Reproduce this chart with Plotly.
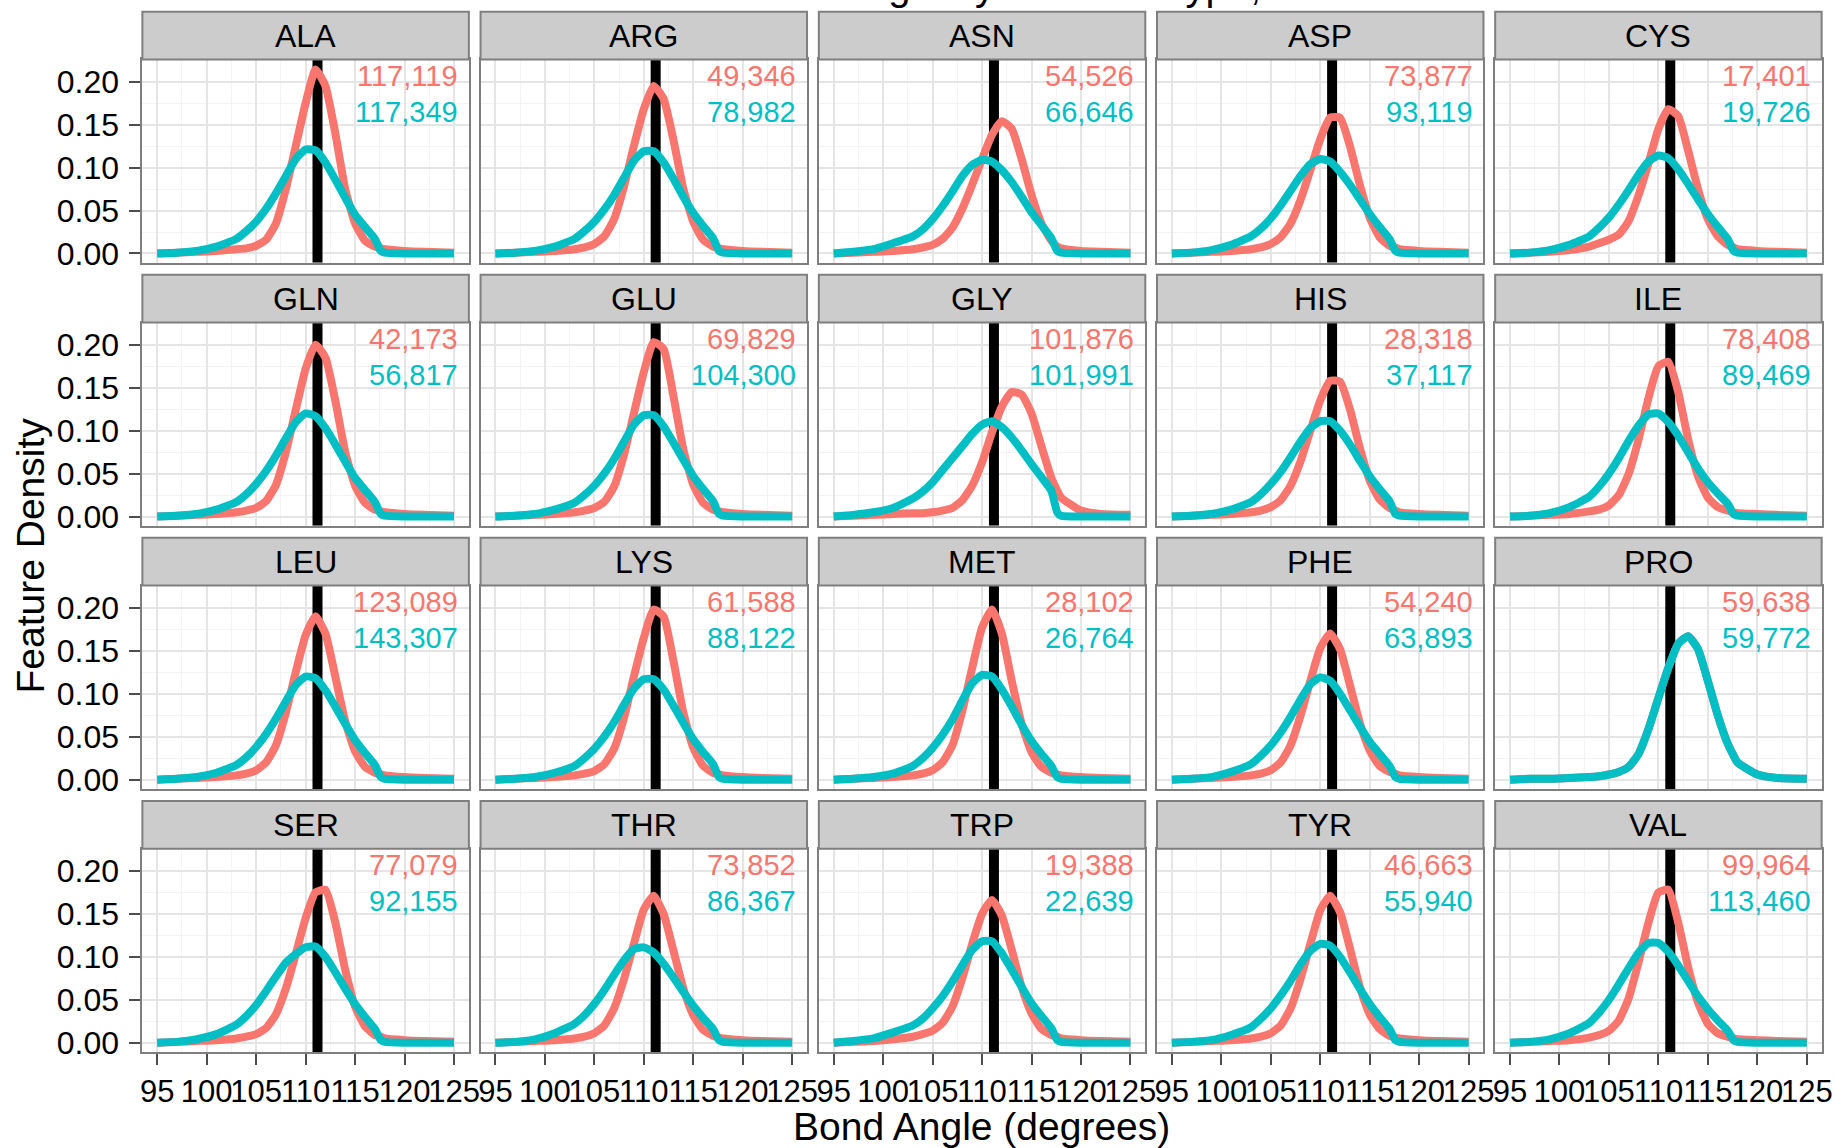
import plotly.graph_objects as go

# ---------------------------------------------------------------- data
residues = ["ALA", "ARG", "ASN", "ASP", "CYS",
            "GLN", "GLU", "GLY", "HIS", "ILE",
            "LEU", "LYS", "MET", "PHE", "PRO",
            "SER", "THR", "TRP", "TYR", "VAL"]

angle_grid = [95, 97, 99, 101, 103, 104, 105, 106, 107, 108, 109, 110,
              111, 112, 113, 114, 115, 116, 117, 117.6, 118, 120, 122, 125]

ideal_angle = 111.2

native_counts = [117119, 49346, 54526, 73877, 17401,
                 42173, 69829, 101876, 28318, 78408,
                 123089, 61588, 28102, 54240, 59638,
                 77079, 73852, 19388, 46663, 99964]
rosetta_counts = [117349, 78982, 66646, 93119, 19726,
                  56817, 104300, 101991, 37117, 89469,
                  143307, 88122, 26764, 63893, 59772,
                  92155, 86367, 22639, 55940, 113460]

native_ala = [0, 0.001, 0.002, 0.003, 0.005, 0.006, 0.009, 0.016, 0.035, 0.075, 0.125, 0.175, 0.214, 0.195, 0.14, 0.075, 0.035, 0.015, 0.008, 0.006, 0.005, 0.003, 0.002, 0.001]
rosetta_ala = [0, 0.001, 0.003, 0.008, 0.017, 0.026, 0.037, 0.052, 0.07, 0.09, 0.11, 0.121, 0.12, 0.106, 0.086, 0.065, 0.045, 0.031, 0.017, 0.003, 0.001, 0, 0, 0]

native_arg = [0, 0.001, 0.002, 0.003, 0.005, 0.007, 0.011, 0.02, 0.04, 0.078, 0.125, 0.168, 0.195, 0.18, 0.132, 0.075, 0.037, 0.016, 0.008, 0.006, 0.005, 0.003, 0.002, 0.001]
rosetta_arg = [0, 0.001, 0.003, 0.008, 0.017, 0.026, 0.037, 0.051, 0.068, 0.088, 0.108, 0.119, 0.119, 0.106, 0.087, 0.066, 0.047, 0.032, 0.018, 0.003, 0.001, 0, 0, 0]

native_asn = [0, 0.001, 0.002, 0.003, 0.005, 0.007, 0.01, 0.017, 0.03, 0.052, 0.08, 0.11, 0.138, 0.154, 0.145, 0.11, 0.068, 0.035, 0.015, 0.008, 0.006, 0.003, 0.002, 0.001]
rosetta_asn = [0, 0.002, 0.005, 0.012, 0.02, 0.028, 0.04, 0.055, 0.072, 0.09, 0.103, 0.109, 0.107, 0.097, 0.083, 0.066, 0.048, 0.033, 0.018, 0.003, 0.001, 0, 0, 0]

native_asp = [0, 0.001, 0.002, 0.003, 0.005, 0.007, 0.011, 0.019, 0.035, 0.062, 0.097, 0.133, 0.158, 0.158, 0.125, 0.08, 0.042, 0.019, 0.009, 0.007, 0.005, 0.003, 0.002, 0.001]
rosetta_asp = [0, 0.001, 0.004, 0.01, 0.02, 0.029, 0.041, 0.056, 0.073, 0.09, 0.104, 0.11, 0.107, 0.095, 0.08, 0.063, 0.046, 0.031, 0.017, 0.003, 0.001, 0, 0, 0]

native_cys = [0, 0.001, 0.002, 0.004, 0.008, 0.012, 0.016, 0.022, 0.038, 0.068, 0.105, 0.145, 0.168, 0.16, 0.12, 0.075, 0.04, 0.02, 0.01, 0.007, 0.005, 0.003, 0.002, 0.001]
rosetta_cys = [0, 0.001, 0.004, 0.01, 0.02, 0.03, 0.042, 0.057, 0.074, 0.092, 0.107, 0.114, 0.111, 0.098, 0.081, 0.063, 0.046, 0.031, 0.017, 0.003, 0.001, 0, 0, 0]

native_gln = [0, 0.001, 0.002, 0.003, 0.005, 0.007, 0.01, 0.018, 0.037, 0.075, 0.124, 0.172, 0.2, 0.185, 0.135, 0.075, 0.036, 0.016, 0.008, 0.006, 0.005, 0.003, 0.002, 0.001]
rosetta_gln = [0, 0.001, 0.003, 0.008, 0.017, 0.026, 0.038, 0.053, 0.071, 0.091, 0.11, 0.12, 0.117, 0.103, 0.084, 0.064, 0.045, 0.031, 0.017, 0.003, 0.001, 0, 0, 0]

native_glu = [0, 0.001, 0.002, 0.003, 0.005, 0.007, 0.01, 0.017, 0.035, 0.072, 0.12, 0.168, 0.203, 0.195, 0.14, 0.078, 0.037, 0.016, 0.008, 0.006, 0.005, 0.003, 0.002, 0.001]
rosetta_glu = [0, 0.001, 0.003, 0.008, 0.016, 0.025, 0.036, 0.05, 0.067, 0.087, 0.107, 0.118, 0.118, 0.105, 0.086, 0.066, 0.047, 0.032, 0.018, 0.003, 0.001, 0, 0, 0]

native_gly = [0, 0.001, 0.002, 0.003, 0.004, 0.004, 0.005, 0.007, 0.01, 0.019, 0.036, 0.063, 0.098, 0.128, 0.145, 0.142, 0.12, 0.082, 0.045, 0.03, 0.022, 0.007, 0.003, 0.002]
rosetta_gly = [0, 0.002, 0.005, 0.01, 0.021, 0.029, 0.04, 0.054, 0.068, 0.082, 0.096, 0.107, 0.111, 0.104, 0.092, 0.077, 0.061, 0.046, 0.03, 0.005, 0.001, 0, 0, 0]

native_his = [0, 0.001, 0.002, 0.003, 0.005, 0.007, 0.011, 0.019, 0.036, 0.064, 0.1, 0.135, 0.158, 0.157, 0.125, 0.08, 0.042, 0.02, 0.01, 0.007, 0.005, 0.003, 0.002, 0.001]
rosetta_his = [0, 0.001, 0.003, 0.008, 0.017, 0.026, 0.038, 0.052, 0.069, 0.087, 0.103, 0.111, 0.111, 0.1, 0.084, 0.065, 0.047, 0.032, 0.018, 0.003, 0.001, 0, 0, 0]

native_ile = [0, 0.001, 0.002, 0.003, 0.006, 0.008, 0.013, 0.025, 0.05, 0.09, 0.138, 0.175, 0.18, 0.145, 0.09, 0.047, 0.022, 0.011, 0.007, 0.005, 0.004, 0.003, 0.002, 0.001]
rosetta_ile = [0, 0.001, 0.004, 0.011, 0.023, 0.035, 0.05, 0.068, 0.088, 0.106, 0.119, 0.12, 0.11, 0.094, 0.075, 0.056, 0.04, 0.027, 0.015, 0.003, 0.001, 0, 0, 0]

native_leu = [0, 0.001, 0.002, 0.003, 0.005, 0.007, 0.011, 0.02, 0.04, 0.078, 0.125, 0.168, 0.19, 0.17, 0.12, 0.068, 0.033, 0.015, 0.008, 0.006, 0.005, 0.003, 0.002, 0.001]
rosetta_leu = [0, 0.001, 0.003, 0.008, 0.017, 0.026, 0.038, 0.053, 0.071, 0.091, 0.11, 0.12, 0.118, 0.104, 0.085, 0.065, 0.046, 0.031, 0.017, 0.003, 0.001, 0, 0, 0]

native_lys = [0, 0.001, 0.002, 0.003, 0.005, 0.007, 0.01, 0.018, 0.036, 0.072, 0.12, 0.165, 0.198, 0.19, 0.138, 0.078, 0.037, 0.016, 0.008, 0.006, 0.005, 0.003, 0.002, 0.001]
rosetta_lys = [0, 0.001, 0.003, 0.008, 0.016, 0.025, 0.036, 0.05, 0.067, 0.087, 0.106, 0.117, 0.117, 0.105, 0.086, 0.066, 0.047, 0.032, 0.018, 0.003, 0.001, 0, 0, 0]

native_met = [0, 0.001, 0.002, 0.003, 0.005, 0.007, 0.011, 0.02, 0.04, 0.08, 0.13, 0.177, 0.198, 0.17, 0.115, 0.065, 0.032, 0.015, 0.008, 0.006, 0.005, 0.003, 0.002, 0.001]
rosetta_met = [0, 0.001, 0.003, 0.007, 0.016, 0.025, 0.037, 0.052, 0.07, 0.092, 0.112, 0.122, 0.12, 0.105, 0.085, 0.064, 0.045, 0.03, 0.016, 0.003, 0.001, 0, 0, 0]

native_phe = [0, 0.001, 0.002, 0.003, 0.005, 0.007, 0.011, 0.02, 0.04, 0.074, 0.115, 0.153, 0.17, 0.152, 0.11, 0.066, 0.034, 0.016, 0.009, 0.007, 0.005, 0.003, 0.002, 0.001]
rosetta_phe = [0, 0.001, 0.003, 0.009, 0.018, 0.028, 0.04, 0.055, 0.073, 0.093, 0.111, 0.119, 0.115, 0.1, 0.081, 0.062, 0.044, 0.03, 0.016, 0.003, 0.001, 0, 0, 0]

native_pro = [0, 0.001, 0.001, 0.002, 0.003, 0.004, 0.006, 0.009, 0.015, 0.03, 0.059, 0.095, 0.13, 0.158, 0.167, 0.152, 0.115, 0.075, 0.042, 0.028, 0.02, 0.006, 0.002, 0.001]
rosetta_pro = [0, 0.001, 0.001, 0.002, 0.003, 0.004, 0.006, 0.009, 0.015, 0.03, 0.059, 0.095, 0.13, 0.158, 0.167, 0.152, 0.115, 0.075, 0.042, 0.028, 0.02, 0.006, 0.002, 0.001]

native_ser = [0, 0.001, 0.002, 0.003, 0.005, 0.007, 0.01, 0.017, 0.033, 0.063, 0.103, 0.145, 0.175, 0.178, 0.14, 0.085, 0.042, 0.019, 0.009, 0.007, 0.005, 0.003, 0.002, 0.001]
rosetta_ser = [0, 0.001, 0.004, 0.01, 0.021, 0.031, 0.044, 0.06, 0.077, 0.093, 0.103, 0.111, 0.112, 0.1, 0.082, 0.063, 0.045, 0.03, 0.016, 0.003, 0.001, 0, 0, 0]

native_thr = [0, 0.001, 0.002, 0.003, 0.005, 0.007, 0.011, 0.02, 0.04, 0.074, 0.115, 0.155, 0.171, 0.15, 0.107, 0.063, 0.032, 0.015, 0.008, 0.006, 0.005, 0.003, 0.002, 0.001]
rosetta_thr = [0, 0.001, 0.004, 0.011, 0.022, 0.032, 0.045, 0.061, 0.079, 0.096, 0.109, 0.111, 0.105, 0.092, 0.076, 0.059, 0.043, 0.029, 0.016, 0.003, 0.001, 0, 0, 0]

native_trp = [0, 0.001, 0.002, 0.004, 0.007, 0.01, 0.014, 0.023, 0.042, 0.075, 0.115, 0.15, 0.166, 0.148, 0.108, 0.065, 0.034, 0.016, 0.009, 0.007, 0.005, 0.003, 0.002, 0.001]
rosetta_trp = [0, 0.002, 0.005, 0.012, 0.02, 0.028, 0.04, 0.054, 0.071, 0.09, 0.108, 0.118, 0.118, 0.104, 0.085, 0.065, 0.046, 0.031, 0.017, 0.003, 0.001, 0, 0, 0]

native_tyr = [0, 0.001, 0.002, 0.003, 0.005, 0.007, 0.011, 0.02, 0.04, 0.074, 0.115, 0.154, 0.171, 0.152, 0.11, 0.065, 0.033, 0.016, 0.008, 0.006, 0.005, 0.003, 0.002, 0.001]
rosetta_tyr = [0, 0.001, 0.003, 0.009, 0.018, 0.028, 0.04, 0.055, 0.072, 0.091, 0.107, 0.115, 0.113, 0.1, 0.082, 0.063, 0.045, 0.03, 0.016, 0.003, 0.001, 0, 0, 0]

native_val = [0, 0.001, 0.002, 0.003, 0.006, 0.009, 0.014, 0.026, 0.052, 0.094, 0.14, 0.175, 0.178, 0.14, 0.088, 0.047, 0.022, 0.011, 0.007, 0.005, 0.004, 0.003, 0.002, 0.001]
rosetta_val = [0, 0.001, 0.004, 0.011, 0.023, 0.035, 0.05, 0.068, 0.087, 0.105, 0.116, 0.116, 0.106, 0.09, 0.072, 0.054, 0.039, 0.026, 0.014, 0.003, 0.001, 0, 0, 0]

native_density = [native_ala, native_arg, native_asn, native_asp, native_cys,
                  native_gln, native_glu, native_gly, native_his, native_ile,
                  native_leu, native_lys, native_met, native_phe, native_pro,
                  native_ser, native_thr, native_trp, native_tyr, native_val]
rosetta_density = [rosetta_ala, rosetta_arg, rosetta_asn, rosetta_asp, rosetta_cys,
                   rosetta_gln, rosetta_glu, rosetta_gly, rosetta_his, rosetta_ile,
                   rosetta_leu, rosetta_lys, rosetta_met, rosetta_phe, rosetta_pro,
                   rosetta_ser, rosetta_thr, rosetta_trp, rosetta_tyr, rosetta_val]

# ---------------------------------------------------------------- styling
W, H = 1835, 1148
FRAME = 0.993                     # usable fraction of the page for the layout grid
FONT = "Liberation Sans, Arial, Helvetica, sans-serif"
RED = "#F8766D"
TEAL = "#00BFC4"
BORDER = "#7F7F7F"

COL_LEFT = [140.4, 478.6, 816.9, 1155.1, 1493.3]
PANEL_W = 326.5
ROW_TOP = [59.5, 322.8, 586.1, 849.4]
PANEL_H = 203.5
STRIP_H = 47.8

X_RANGE = [93.5, 126.5]
Y_RANGE = [-0.0108, 0.2258]


def fx(px):
    return px / (W * FRAME)


def fy(py):
    return 1 - py / (H * FRAME)


fig = go.Figure()
layout = dict(
    width=W, height=H, autosize=False,
    margin=dict(l=0, r=0, t=0, b=0),
    paper_bgcolor="white", plot_bgcolor="white",
    showlegend=False,
    font=dict(family=FONT, color="black"),
)
shapes = []
annotations = []

for i, res in enumerate(residues):
    r, c = divmod(i, 5)
    sfx = "" if i == 0 else str(i + 1)
    left = COL_LEFT[c]
    top = ROW_TOP[r]

    layout["xaxis" + sfx] = dict(
        domain=[fx(left), fx(left + PANEL_W)],
        anchor="y" + sfx, range=X_RANGE,
        tickmode="linear", tick0=95, dtick=5, tickangle=0,
        showticklabels=(r == 3), ticks="outside" if r == 3 else "",
        ticklen=11, tickwidth=1.5, tickcolor="#4D4D4D",
        tickfont=dict(size=31, color="black"),
        showgrid=True, gridcolor="#E5E5E5", gridwidth=1.6,
        minor=dict(dtick=2.5, tick0=95, showgrid=True, gridcolor="#F4F4F4", gridwidth=1.2),
        showline=True, mirror=True, linecolor=BORDER, linewidth=2,
        zeroline=False, fixedrange=True,
    )
    layout["yaxis" + sfx] = dict(
        domain=[fy(top + PANEL_H), fy(top)],
        anchor="x" + sfx, range=Y_RANGE,
        tickmode="linear", tick0=0, dtick=0.05, tickformat=".2f",
        showticklabels=(c == 0), ticks="outside" if c == 0 else "",
        ticklen=11, tickwidth=1.5, tickcolor="#4D4D4D",
        ticklabelstandoff=4,
        tickfont=dict(size=32, color="black"),
        showgrid=True, gridcolor="#E5E5E5", gridwidth=1.6,
        minor=dict(dtick=0.025, tick0=0, showgrid=True, gridcolor="#F4F4F4", gridwidth=1.2),
        showline=True, mirror=True, linecolor=BORDER, linewidth=2,
        zeroline=False, fixedrange=True,
    )

    # facet strip
    shapes.append(dict(
        type="rect", xref="paper", yref="paper",
        x0=fx(left), x1=fx(left + PANEL_W),
        y0=fy(top), y1=fy(top - STRIP_H),
        fillcolor="#CCCCCC", line=dict(color=BORDER, width=2),
    ))
    annotations.append(dict(
        xref="paper", yref="paper",
        x=fx(left + PANEL_W / 2), y=fy(top - STRIP_H / 2),
        text=res, showarrow=False, font=dict(size=32, color="black"),
        xanchor="center", yanchor="middle",
    ))

    # reference angle, spanning the full panel height
    fig.add_trace(go.Scatter(
        x=[ideal_angle, ideal_angle], y=Y_RANGE,
        xaxis="x" + sfx, yaxis="y" + sfx,
        mode="lines", hoverinfo="skip",
        line=dict(color="black", width=10),
    ))

    # density curves
    for vals, color in ((native_density[i], RED), (rosetta_density[i], TEAL)):
        fig.add_trace(go.Scatter(
            x=angle_grid, y=vals, xaxis="x" + sfx, yaxis="y" + sfx,
            mode="lines", hoverinfo="skip",
            line=dict(color=color, width=8, shape="spline", smoothing=0.5),
        ))

    # feature counts
    annotations.append(dict(
        xref="x" + sfx, yref="y" + sfx, x=125.6, y=0.207,
        text=f"{native_counts[i]:,}", showarrow=False,
        xanchor="right", yanchor="middle", font=dict(size=29, color=RED),
    ))
    annotations.append(dict(
        xref="x" + sfx, yref="y" + sfx, x=125.6, y=0.165,
        text=f"{rosetta_counts[i]:,}", showarrow=False,
        xanchor="right", yanchor="middle", font=dict(size=29, color=TEAL),
    ))

# axis titles and main title
annotations.append(dict(
    xref="paper", yref="paper", x=fx(980), y=fy(1127),
    text="Bond Angle (degrees)", showarrow=False,
    xanchor="center", yanchor="middle", font=dict(size=39, color="black"),
))
annotations.append(dict(
    xref="paper", yref="paper", x=fx(29), y=fy(556),
    text="Feature Density", showarrow=False, textangle=-90,
    xanchor="center", yanchor="middle", font=dict(size=39, color="black"),
))
annotations.append(dict(
    xref="paper", yref="paper", x=fx(990), y=fy(10),
    text="Backbone N-CA-C Bond Angle by Residue Type, Native vs Rosetta",
    showarrow=False, xanchor="center", yanchor="bottom",
    font=dict(size=40, color="black"),
))

layout["shapes"] = shapes
layout["annotations"] = annotations
fig.update_layout(**layout)
fig.write_html("out.html")
